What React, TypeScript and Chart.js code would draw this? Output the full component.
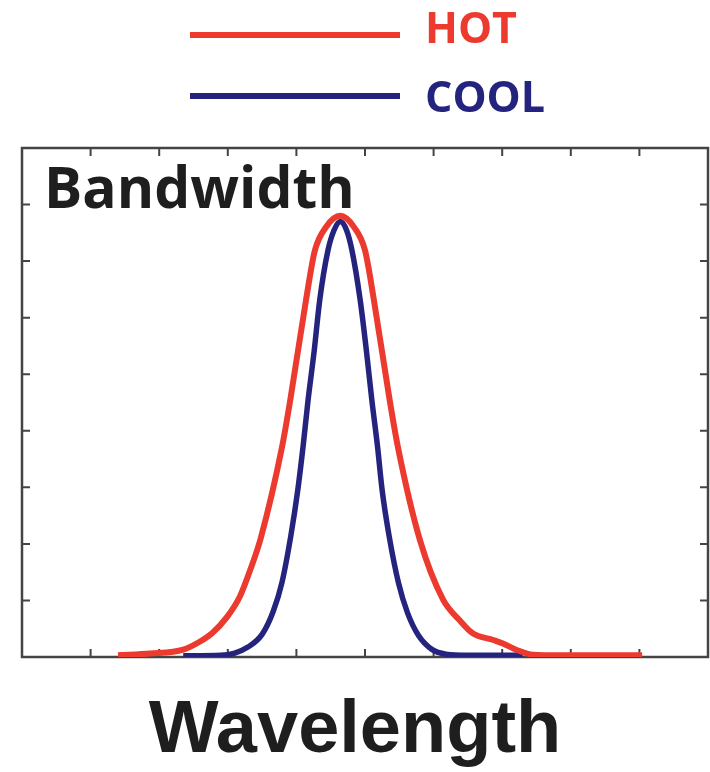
import React, { useEffect, useRef } from "react";
import { Chart, registerables } from "chart.js";

Chart.register(...registerables);

const hotX = [1.4, 1.87, 2.35, 2.59, 2.77, 2.99, 3.18, 3.33, 3.48, 3.79, 3.91, 4.14, 4.27, 4.43, 4.64, 4.84, 5.0, 5.13, 5.36, 5.48, 5.8, 6.14, 6.38, 6.57, 6.87, 7.01, 7.22, 7.45, 7.84, 9.04];
const hotY = [0.03, 0.06, 0.13, 0.27, 0.42, 0.71, 1.08, 1.55, 2.1, 3.71, 4.54, 6.31, 7.19, 7.6, 7.8, 7.6, 7.19, 6.31, 4.54, 3.71, 2.07, 1.01, 0.65, 0.42, 0.3, 0.24, 0.12, 0.04, 0.03, 0.03];
const coolX = [2.35, 2.9, 3.1, 3.3, 3.5, 3.66, 3.79, 3.92, 4.02, 4.1, 4.17, 4.26, 4.34, 4.46, 4.55, 4.64, 4.73, 4.81, 4.93, 5.02, 5.1, 5.18, 5.25, 5.35, 5.49, 5.62, 5.78, 5.98, 6.18, 6.5, 7.3];
const coolY = [0.02, 0.03, 0.07, 0.18, 0.4, 0.8, 1.32, 2.15, 2.95, 3.75, 4.54, 5.42, 6.31, 7.19, 7.55, 7.7, 7.55, 7.19, 6.31, 5.42, 4.54, 3.75, 2.95, 2.15, 1.3, 0.78, 0.38, 0.13, 0.05, 0.03, 0.03];

const seriesLabels = ["HOT", "COOL"];
const seriesColors = ["#ec3a2e", "#24247f"];
const xTicks = [1, 2, 3, 4, 5, 6, 7, 8, 9];
const yTicks = [1, 2, 3, 4, 5, 6, 7, 8];
const panelLabel = "Bandwidth";
const xTitle = "Wavelength";

const decorPlugin = {
  id: "decor",
  beforeDatasetsDraw(chart: any) {
    const { ctx, chartArea: a, scales } = chart;
    ctx.save();
    ctx.strokeStyle = "#444444";
    ctx.lineWidth = 2.5;
    ctx.strokeRect(a.left, a.top, a.right - a.left, a.bottom - a.top);
    ctx.lineWidth = 2;
    const L = 8;
    ctx.beginPath();
    xTicks.forEach((t) => {
      const px = scales.x.getPixelForValue(t);
      ctx.moveTo(px, a.bottom);
      ctx.lineTo(px, a.bottom - L);
      ctx.moveTo(px, a.top);
      ctx.lineTo(px, a.top + L);
    });
    yTicks.forEach((t) => {
      const py = scales.y.getPixelForValue(t);
      ctx.moveTo(a.left, py);
      ctx.lineTo(a.left + L, py);
      ctx.moveTo(a.right, py);
      ctx.lineTo(a.right - L, py);
    });
    ctx.stroke();
    ctx.restore();
  },
  afterDraw(chart: any) {
    const { ctx } = chart;
    ctx.save();
    // panel label
    ctx.fillStyle = "#1e1e1e";
    ctx.font = "bold 57px 'Open Sans'";
    ctx.textBaseline = "alphabetic";
    ctx.textAlign = "left";
    ctx.fillText(panelLabel, 44, 208);
    // x title
    ctx.font = "bold 74px 'Liberation Sans'";
    ctx.textAlign = "center";
    ctx.fillStyle = "#1e1e1e";
    ctx.fillText(xTitle, 355, 752);
    // legend
    const lineYs = [35, 96];
    const textBase = [43, 112];
    chart.data.datasets.forEach((ds: any, i: number) => {
      ctx.strokeStyle = ds.borderColor;
      ctx.lineWidth = 6;
      ctx.beginPath();
      ctx.moveTo(190, lineYs[i]);
      ctx.lineTo(400, lineYs[i]);
      ctx.stroke();
      ctx.fillStyle = ds.borderColor;
      ctx.font = "bold 43px 'Open Sans'";
      ctx.textAlign = "left";
      ctx.textBaseline = "alphabetic";
      ctx.fillText(ds.label, 425, textBase[i]);
    });
    ctx.restore();
  },
};

export default function App() {
  const ref = useRef<HTMLCanvasElement | null>(null);
  useEffect(() => {
    document.body.style.margin = "0";
    const canvas = ref.current!;
    const chart = new Chart(canvas, {
      type: "line",
      data: {
        datasets: [
          {
            label: seriesLabels[0],
            data: hotX.map((x, i) => ({ x, y: hotY[i] })),
            borderColor: seriesColors[0],
            borderWidth: 6,
            pointRadius: 0,
            cubicInterpolationMode: "monotone",
          },
          {
            label: seriesLabels[1],
            data: coolX.map((x, i) => ({ x, y: coolY[i] })),
            borderColor: seriesColors[1],
            borderWidth: 5.5,
            pointRadius: 0,
            cubicInterpolationMode: "monotone",
          },
        ],
      },
      options: {
        animation: false,
        responsive: false,
        maintainAspectRatio: false,
        layout: { padding: { left: 22, right: 2, top: 148, bottom: 115 } },
        plugins: { legend: { display: false }, tooltip: { enabled: false } },
        scales: {
          x: { type: "linear", min: 0, max: 10, display: false },
          y: { type: "linear", min: 0, max: 9, display: false },
        },
      },
      plugins: [decorPlugin],
    } as any);
    return () => chart.destroy();
  }, []);
  return (
    <div style={{ width: 710, height: 772, background: "#fff" }}>
      <canvas ref={ref} width={710} height={772} style={{ display: "block" }} />
    </div>
  );
}
